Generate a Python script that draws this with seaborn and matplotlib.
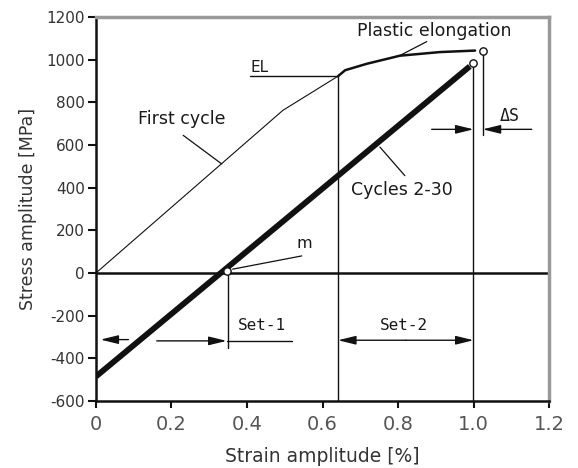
import matplotlib
matplotlib.use("Agg")
import matplotlib.pyplot as plt
import seaborn as sns
import pandas as pd

# ---- data ----
first_cycle_strain = [0.0, 0.495, 0.641]
first_cycle_stress = [0, 762, 922]

plastic_strain = [0.641, 0.66, 0.717, 0.805, 0.911, 1.004]
plastic_stress = [922, 950, 980, 1018, 1035, 1042]

cycles_strain = [0.0, 0.99]
cycles_stress = [-485, 968]

marker_strain = [0.346, 0.999, 1.024]
marker_stress = [9, 982, 1040]

x_ticks = [0, 0.2, 0.4, 0.6, 0.8, 1.0, 1.2]
x_tick_labels = ["0", "0.2", "0.4", "0.6", "0.8", "1.0", "1.2"]
y_ticks = [-600, -400, -200, 0, 200, 400, 600, 800, 1000, 1200]

el_strain = 0.641
el_stress = 922
m_strain = 0.346
set_level = -318
ds_level = 673

sns.set_style("ticks")
plt.rcParams["font.family"] = ["DejaVu Sans"]
plt.rcParams["axes.unicode_minus"] = False

fig = plt.figure(figsize=(5.78, 4.68), dpi=100)
ax = fig.add_axes([0.166, 0.143, 0.784, 0.821])

df_first = pd.DataFrame({"strain": first_cycle_strain, "stress": first_cycle_stress})
df_plastic = pd.DataFrame({"strain": plastic_strain, "stress": plastic_stress})
df_cycles = pd.DataFrame({"strain": cycles_strain, "stress": cycles_stress})
df_mark = pd.DataFrame({"strain": marker_strain, "stress": marker_stress})

K = "#111111"
# zero line
ax.axhline(0, color=K, lw=1.8, zorder=2)

# vertical guide lines
ax.plot([el_strain, el_strain], [-600, el_stress], color=K, lw=1.0, zorder=2)
ax.plot([marker_strain[1], marker_strain[1]], [-600, marker_stress[1] - 12], color=K, lw=1.0, zorder=2)
ax.plot([marker_strain[2], marker_strain[2]], [645, marker_stress[2] - 12], color=K, lw=1.0, zorder=2)
ax.plot([m_strain + 0.003, m_strain + 0.003], [-351, marker_stress[0] - 10], color=K, lw=1.0, zorder=2)

# EL horizontal
ax.plot([0.408, el_strain], [el_stress, el_stress], color=K, lw=1.0, zorder=2)

sns.lineplot(data=df_first, x="strain", y="stress", ax=ax, color=K, lw=0.8,
             estimator=None, sort=False, zorder=3)
sns.lineplot(data=df_plastic, x="strain", y="stress", ax=ax, color=K, lw=1.8,
             estimator=None, sort=False, zorder=3)
sns.lineplot(data=df_cycles, x="strain", y="stress", ax=ax, color=K, lw=4.2,
             estimator=None, sort=False, zorder=3, solid_capstyle="butt")
sns.scatterplot(data=df_mark, x="strain", y="stress", ax=ax, s=28, marker="o",
                facecolor="white", edgecolor=K, linewidth=1.0, zorder=5)

# leader lines
ax.plot([0.231, 0.333], [645, 511], color=K, lw=0.9)
ax.plot([0.876, 0.805], [1084, 1019], color=K, lw=0.9)
ax.plot([0.818, 0.752], [456, 590], color=K, lw=0.9)
ax.plot([0.362, 0.545], [18, 80], color=K, lw=0.9)

# arrows
ahead = dict(arrowstyle="-|>,head_length=0.9,head_width=0.22", color=K, lw=1.0,
             shrinkA=0, shrinkB=0, mutation_scale=12)
# Set-1
ax.annotate("", xy=(0.012, set_level + 6), xytext=(0.086, set_level + 6), arrowprops=ahead)
ax.annotate("", xy=(m_strain, set_level), xytext=(0.161, set_level), arrowprops=ahead)
ax.plot([m_strain, 0.518], [set_level, set_level], color=K, lw=1.0)
# Set-2
ax.annotate("", xy=(el_strain, set_level + 3), xytext=(0.82, set_level + 3), arrowprops=ahead)
ax.annotate("", xy=(1.0, set_level + 3), xytext=(0.82, set_level + 3), arrowprops=ahead)
# Delta S
ax.annotate("", xy=(1.0, ds_level), xytext=(0.889, ds_level), arrowprops=ahead)
ax.annotate("", xy=(marker_strain[2], ds_level), xytext=(1.154, ds_level), arrowprops=ahead)

# annotation texts
TC = "#1a1a1a"
ax.text(0.111, 722, "First cycle", fontsize=12.5, color=TC, ha="left", va="center")
ax.text(0.41, 962, "EL", fontsize=11, color=TC, ha="left", va="center")
ax.text(0.69, 1134, "Plastic elongation", fontsize=12.5, color=TC, ha="left", va="center")
ax.text(0.675, 390, "Cycles 2-30", fontsize=12.5, color=TC, ha="left", va="center")
ax.text(0.53, 140, "m", fontsize=11.5, color=TC, ha="left", va="center")
ax.text(0.377, -245, "Set-1", fontsize=11.5, color=TC, ha="left", va="center",
        family="DejaVu Sans Mono")
ax.text(0.752, -245, "Set-2", fontsize=11.5, color=TC, ha="left", va="center",
        family="DejaVu Sans Mono")
ax.text(1.07, 735, "\u0394S", fontsize=12, color=TC, ha="left", va="center",
        family="DejaVu Sans Mono")

# axes styling
ax.set_xlim(0, 1.2)
ax.set_ylim(-600, 1200)
ax.set_xticks(x_ticks)
ax.set_xticklabels(x_tick_labels)
ax.set_yticks(y_ticks)
ax.tick_params(axis="x", direction="out", length=5, width=1.5, labelsize=14,
               labelcolor="#555555", pad=5, color=K)
ax.tick_params(axis="y", direction="out", length=6, width=1.5, labelsize=11,
               labelcolor="#333333", pad=2, color=K)

ax.set_xlabel("Strain amplitude [%]", fontsize=13.5, color="#333333")
ax.set_ylabel("Stress amplitude [MPa]", fontsize=12.5, color="#333333")
ax.xaxis.set_label_coords(0.5, -0.143)
ax.xaxis.label.set_va("center")
ax.yaxis.set_label_coords(-0.150, 0.5)
ax.yaxis.label.set_va("center")

for side in ["left", "bottom"]:
    ax.spines[side].set_color(K)
    ax.spines[side].set_linewidth(1.8)
for side in ["top", "right"]:
    ax.spines[side].set_visible(True)
    ax.spines[side].set_color("#999999")
    ax.spines[side].set_linewidth(2.5)

fig.savefig("out.png", dpi=100, facecolor="white")
